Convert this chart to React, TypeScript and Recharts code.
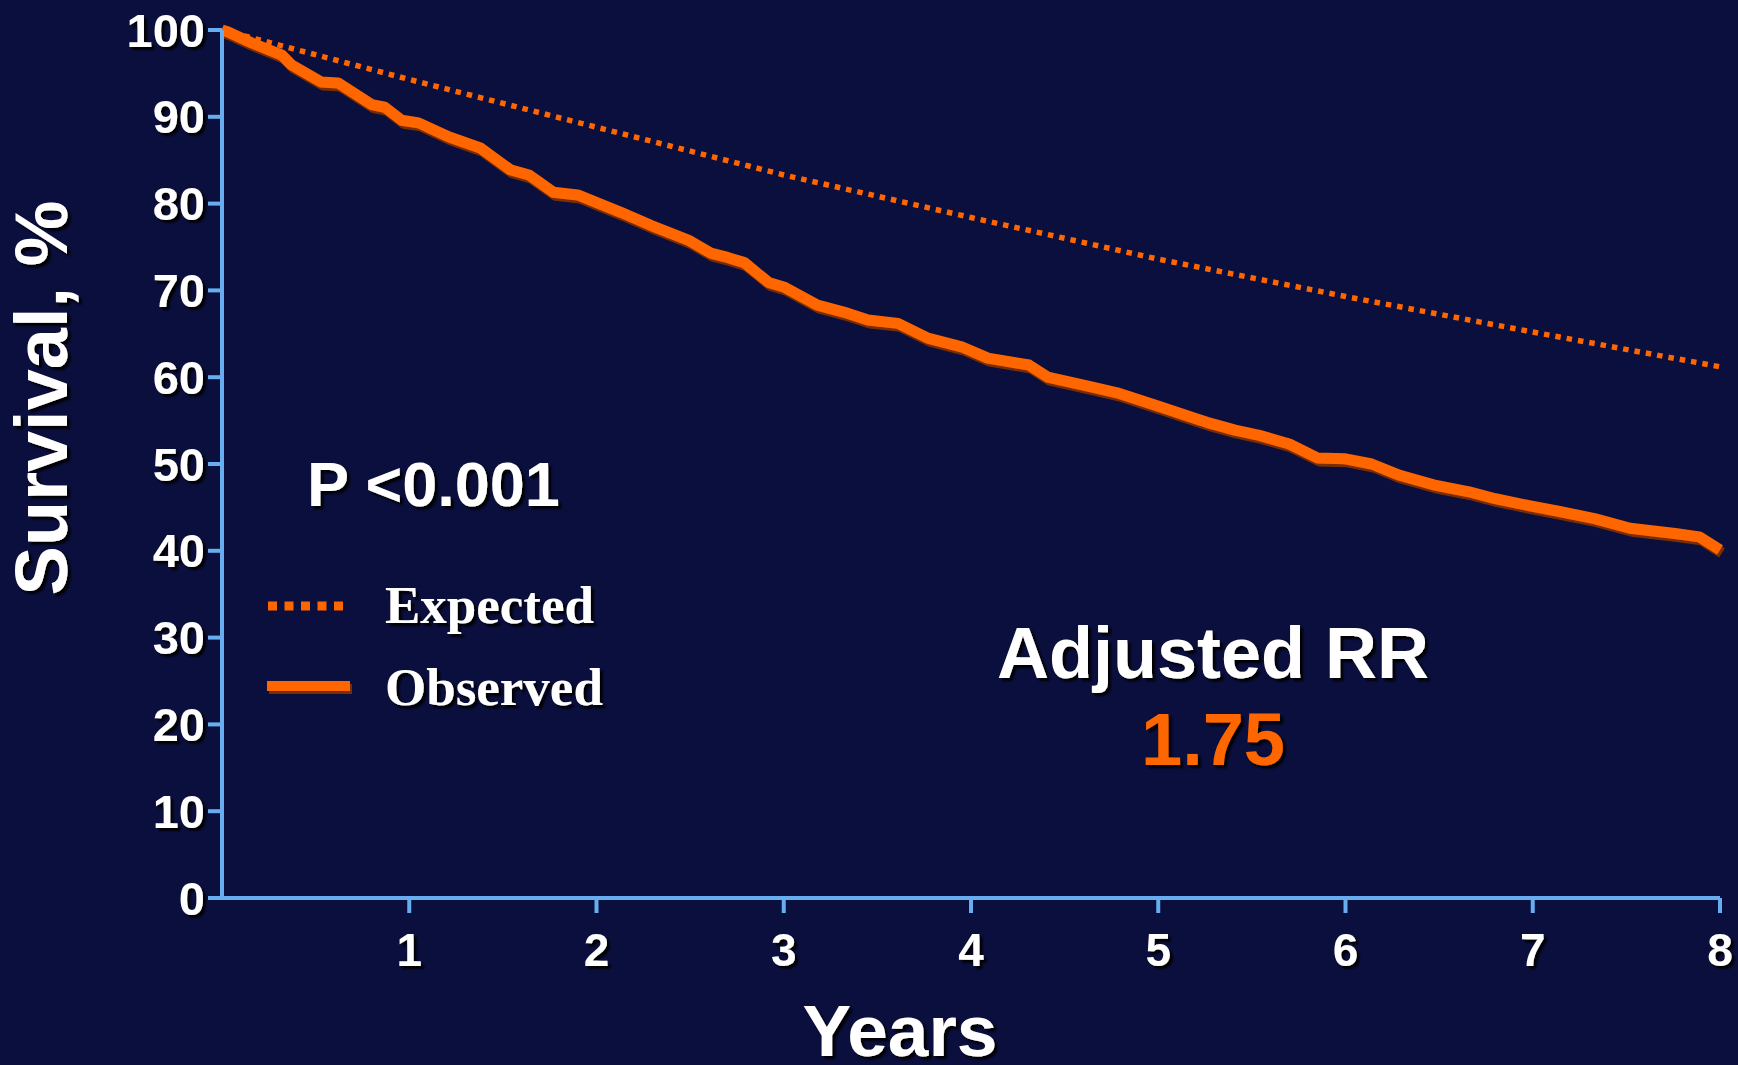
import { LineChart, Line, XAxis, YAxis } from "recharts";

const BG = "#0B0F3D";
const ORANGE = "#FF6600";
const AXIS = "#66AEEF";
const SANS = "'Liberation Sans', Arial, sans-serif";
const SERIF = "'Liberation Serif', 'Times New Roman', serif";

// expected survival (dotted line)
const expectedYears = [0, 1, 2, 3, 4, 5, 6, 7, 8];
const expectedSurvival = [100, 94.3, 88.8, 83.3, 78.4, 73.6, 69.3, 65.2, 61.2];

// observed Kaplan-Meier curve
const observedYears = [
  0, 0.03, 0.16, 0.32, 0.37, 0.53, 0.62, 0.8, 0.87, 0.96, 1.05, 1.21, 1.38, 1.54, 1.64, 1.77, 1.9,
  2.13, 2.29, 2.49, 2.61, 2.7, 2.79, 2.92, 3.0, 3.18, 3.32, 3.45, 3.61, 3.77, 3.95, 4.09, 4.31, 4.41,
  4.66, 4.78, 5.01, 5.19, 5.26, 5.41, 5.54, 5.7, 5.85, 6.0, 6.14, 6.29, 6.47, 6.66, 6.8, 6.98, 7.15,
  7.33, 7.52, 7.76, 7.89, 8.0,
];
const observedSurvival = [
  100, 99.8, 98.5, 97.1, 96, 94, 93.9, 91.4, 91.1, 89.6, 89.3, 87.7, 86.4, 83.9, 83.3, 81.3, 81,
  79, 77.5, 75.8, 74.3, 73.8, 73.2, 70.9, 70.4, 68.3, 67.5, 66.6, 66.2, 64.5, 63.5, 62.2, 61.4, 60,
  58.8, 58.2, 56.6, 55.3, 54.8, 53.9, 53.3, 52.3, 50.7, 50.6, 50, 48.7, 47.6, 46.8, 46, 45.2, 44.5,
  43.7, 42.6, 42, 41.6, 40.1,
];

const yearTicks = [1, 2, 3, 4, 5, 6, 7, 8];
const survivalTicks = [0, 10, 20, 30, 40, 50, 60, 70, 80, 90, 100];

const expected = expectedYears.map((t, i) => ({ t, v: expectedSurvival[i] }));
const observed = observedYears.map((t, i) => ({ t, v: observedSurvival[i] }));

const YTick = ({ x, y, payload }: any) => (
  <text
    x={x}
    y={y}
    dy="0.355em"
    textAnchor="end"
    fill="#fff"
    fontFamily={SANS}
    fontWeight="bold"
    fontSize={47}
    filter="url(#txtShadow)"
  >
    {payload.value}
  </text>
);

const XTick = ({ x, y, payload }: any) => (
  <text
    x={x}
    y={y}
    dy="0.71em"
    textAnchor="middle"
    fill="#fff"
    fontFamily={"'Liberation Sans Narrow', " + SANS}
    fontWeight="bold"
    fontSize={46}
    filter="url(#txtShadow)"
  >
    {payload.value}
  </text>
);

export default function App() {
  return (
    <div style={{ position: "absolute", left: 0, top: 0, width: 1738, height: 1065, background: BG, overflow: "hidden" }}>
      <svg width={0} height={0} style={{ position: "absolute" }}>
        <defs>
          <filter id="txtShadow" x="-20%" y="-20%" width="140%" height="150%">
            <feDropShadow dx="3" dy="3" stdDeviation="0.8" floodColor="#000" floodOpacity="0.95" />
          </filter>
          <filter id="lineShadow" filterUnits="userSpaceOnUse" x={0} y={0} width={1738} height={1065}>
            <feDropShadow dx="2" dy="3" stdDeviation="0.5" floodColor="#7A2E00" floodOpacity="1" />
          </filter>
        </defs>
      </svg>

      <div style={{ position: "absolute", left: 0, top: 0 }}>
        <LineChart width={1738} height={1065} margin={{ top: 30, right: 18, left: 0, bottom: 0 }}>
          <XAxis
            dataKey="t"
            type="number"
            domain={[0, 8]}
            ticks={yearTicks}
            height={167}
            stroke={AXIS}
            strokeWidth={4}
            tickSize={15}
            tickMargin={20}
            tick={<XTick />}
            allowDecimals={false}
          />
          <YAxis
            type="number"
            domain={[0, 100]}
            ticks={survivalTicks}
            width={222}
            stroke={AXIS}
            strokeWidth={4}
            tickSize={14}
            tickMargin={3}
            tick={<YTick />}
          />
          <Line
            data={expected}
            dataKey="v"
            type="linear"
            stroke={ORANGE}
            strokeWidth={5.5}
            strokeDasharray="5.5 6"
            dot={false}
            activeDot={false}
            isAnimationActive={false}
          />
          <Line
            data={observed}
            dataKey="v"
            type="linear"
            stroke={ORANGE}
            strokeWidth={11}
            strokeLinejoin="round"
            dot={false}
            activeDot={false}
            isAnimationActive={false}
            filter="url(#lineShadow)"
          />
        </LineChart>
      </div>

      <svg width={1738} height={1065} style={{ position: "absolute", left: 0, top: 0, pointerEvents: "none" }}>
        <g fill="#fff" fontFamily={SANS} fontWeight="bold" filter="url(#txtShadow)">
          <text x={67} y={398} fontSize={74} textAnchor="middle" transform="rotate(-90 67 398)">
            Survival, %
          </text>
          <text x={900} y={1056} fontSize={73} textAnchor="middle">
            Years
          </text>
          <text x={307} y={506} fontSize={63}>
            P &lt;0.001
          </text>
          <text x={1213} y={678} fontSize={72} textAnchor="middle">
            Adjusted RR
          </text>
          <text x={1213} y={765} fontSize={74} textAnchor="middle" fill={ORANGE}>
            1.75
          </text>
        </g>

        <line x1={268} x2={346} y1={606} y2={606} stroke={ORANGE} strokeWidth={9} strokeDasharray="9 7.5" />
        <line x1={267} x2={350} y1={686} y2={686} stroke={ORANGE} strokeWidth={10} filter="url(#lineShadow)" />
        <g fill="#fff" fontFamily={SERIF} fontWeight="bold" fontSize={53} filter="url(#txtShadow)">
          <text x={385} y={623}>Expected</text>
          <text x={385} y={705}>Observed</text>
        </g>
      </svg>
    </div>
  );
}
